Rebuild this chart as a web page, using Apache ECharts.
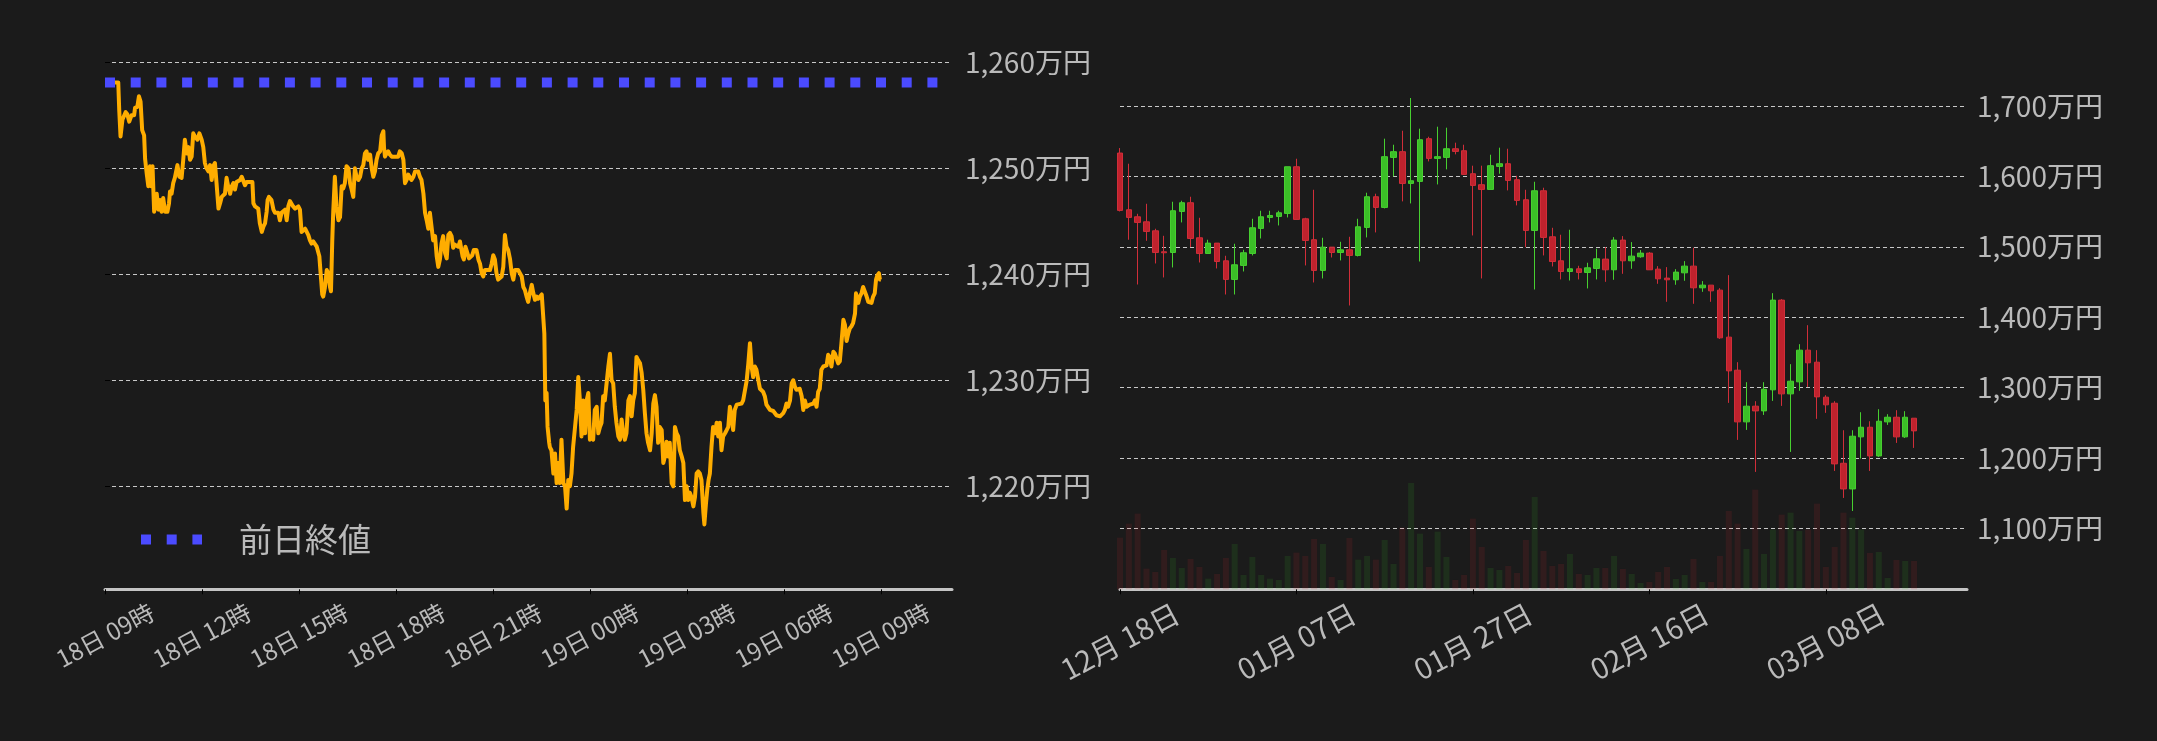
<!DOCTYPE html>
<html><head><meta charset="utf-8">
<script src="https://cdn.jsdelivr.net/npm/echarts@6/dist/echarts.min.js"></script>
<style>html,body{margin:0;padding:0;background:#1b1b1b;}#c{width:2157px;height:741px;}</style>
</head><body><div id="c"></div>
<script>
// ---- left chart: intraday price (hours since 18日 09:00, 万円) ----
const intraday = [
[0.31,1258.1],[0.41,1258.1],[0.44,1255.5],[0.48,1253.0],[0.54,1254.6],[0.57,1254.7],[0.64,1255.3],[0.69,1255.1],[0.75,1254.4],[0.82,1255.0],[0.90,1255.0],[0.93,1255.7],[1.00,1255.8],[1.05,1256.8],[1.10,1256.3],[1.15,1253.6],[1.21,1253.1],[1.24,1250.9],[1.29,1249.5],[1.34,1248.3],[1.39,1250.2],[1.44,1248.3],[1.47,1250.2],[1.52,1245.9],[1.60,1247.6],[1.65,1246.1],[1.70,1247.0],[1.75,1245.9],[1.80,1247.2],[1.86,1245.9],[1.93,1245.9],[1.98,1246.7],[2.01,1247.8],[2.06,1247.6],[2.11,1248.6],[2.16,1249.1],[2.24,1250.3],[2.30,1249.2],[2.37,1249.1],[2.42,1250.8],[2.47,1252.7],[2.53,1251.4],[2.58,1252.0],[2.63,1250.8],[2.68,1251.1],[2.73,1253.3],[2.78,1253.0],[2.86,1252.7],[2.92,1253.3],[2.99,1252.7],[3.04,1252.0],[3.09,1250.5],[3.14,1250.0],[3.20,1249.7],[3.25,1250.3],[3.30,1248.9],[3.35,1250.2],[3.40,1250.5],[3.45,1248.6],[3.51,1246.2],[3.56,1246.7],[3.61,1247.3],[3.66,1247.3],[3.71,1247.6],[3.76,1249.1],[3.81,1248.3],[3.87,1247.6],[3.92,1248.3],[3.97,1248.6],[4.02,1248.0],[4.07,1248.7],[4.12,1248.6],[4.18,1248.9],[4.23,1249.2],[4.28,1249.2],[4.33,1248.4],[4.38,1248.7],[4.48,1248.7],[4.56,1248.7],[4.59,1246.7],[4.64,1246.4],[4.74,1246.2],[4.79,1244.8],[4.85,1244.0],[4.90,1244.5],[4.95,1244.8],[5.00,1245.9],[5.03,1247.0],[5.07,1247.3],[5.15,1247.0],[5.21,1246.1],[5.26,1245.8],[5.36,1245.8],[5.41,1245.1],[5.46,1245.8],[5.52,1245.9],[5.57,1246.1],[5.62,1245.1],[5.67,1246.4],[5.72,1246.9],[5.77,1247.0],[5.82,1246.4],[5.88,1246.2],[5.93,1246.2],[5.98,1246.4],[6.03,1246.1],[6.08,1244.0],[6.13,1243.9],[6.19,1244.3],[6.24,1244.3],[6.29,1243.7],[6.34,1243.2],[6.39,1242.9],[6.44,1243.1],[6.49,1243.1],[6.55,1242.6],[6.60,1242.5],[6.63,1241.7],[6.67,1240.1],[6.72,1238.1],[6.75,1237.9],[6.80,1238.7],[6.86,1240.4],[6.91,1240.1],[6.96,1238.8],[6.99,1238.4],[7.03,1243.2],[7.06,1245.9],[7.11,1249.2],[7.16,1246.4],[7.22,1245.1],[7.27,1245.4],[7.32,1248.3],[7.37,1248.1],[7.42,1248.6],[7.47,1250.2],[7.53,1250.0],[7.58,1248.6],[7.63,1248.0],[7.68,1247.3],[7.73,1250.0],[7.78,1249.2],[7.84,1248.9],[7.89,1249.2],[7.94,1250.0],[7.99,1250.3],[8.04,1251.4],[8.09,1251.6],[8.14,1250.8],[8.20,1251.3],[8.25,1250.0],[8.30,1249.2],[8.35,1249.7],[8.40,1250.8],[8.45,1251.4],[8.51,1251.6],[8.56,1253.1],[8.61,1253.5],[8.63,1252.0],[8.66,1251.1],[8.71,1251.4],[8.76,1251.6],[8.81,1251.3],[8.87,1251.1],[8.97,1251.1],[9.07,1251.1],[9.12,1251.6],[9.18,1251.4],[9.23,1250.8],[9.28,1248.6],[9.33,1248.9],[9.38,1249.4],[9.48,1248.9],[9.54,1249.2],[9.59,1249.7],[9.64,1249.8],[9.69,1249.7],[9.74,1249.2],[9.79,1248.9],[9.85,1247.6],[9.90,1245.8],[9.95,1245.1],[10.00,1244.3],[10.05,1245.8],[10.10,1244.5],[10.15,1243.2],[10.21,1243.6],[10.26,1241.7],[10.31,1240.7],[10.36,1241.4],[10.41,1242.9],[10.46,1243.6],[10.52,1242.0],[10.57,1241.5],[10.62,1243.7],[10.67,1243.9],[10.72,1243.6],[10.77,1242.5],[10.82,1242.8],[10.88,1242.8],[10.93,1242.6],[10.98,1243.1],[11.03,1243.2],[11.06,1241.7],[11.10,1241.4],[11.15,1242.6],[11.21,1242.5],[11.26,1241.5],[11.31,1241.4],[11.36,1241.8],[11.41,1242.3],[11.49,1242.3],[11.55,1241.4],[11.60,1241.0],[11.65,1240.1],[11.70,1239.8],[11.75,1240.4],[11.80,1240.3],[11.91,1240.4],[11.96,1241.0],[12.01,1241.8],[12.06,1241.4],[12.11,1240.1],[12.16,1239.5],[12.22,1239.6],[12.27,1239.8],[12.32,1240.7],[12.37,1243.7],[12.42,1242.6],[12.47,1242.3],[12.53,1241.4],[12.58,1240.1],[12.63,1239.5],[12.68,1240.4],[12.78,1240.4],[12.84,1240.3],[12.89,1239.8],[12.94,1238.8],[12.99,1238.5],[13.04,1237.9],[13.09,1237.4],[13.14,1238.2],[13.20,1239.0],[13.25,1238.2],[13.30,1237.6],[13.35,1237.9],[13.40,1237.7],[13.45,1237.7],[13.51,1238.1],[13.56,1238.1],
[13.59,1234.4],[13.62,1228.1],[13.66,1228.8],[13.69,1225.6],[13.74,1224.1],
[13.76,1223.7],[13.81,1223.4],[13.87,1221.2],[13.92,1223.1],[13.97,1220.3],[14.02,1222.2],[14.07,1220.3],[14.12,1224.4],[14.18,1220.3],[14.23,1220.0],[14.28,1217.9],[14.33,1220.6],[14.38,1220.0],[14.43,1221.2],[14.48,1223.7],[14.54,1225.6],[14.59,1227.2],[14.64,1230.3],[14.69,1228.1],[14.74,1224.7],[14.79,1228.1],[14.85,1225.0],[14.90,1228.1],[14.95,1228.8],[15.00,1224.4],[15.05,1224.7],[15.10,1224.4],[15.15,1227.2],[15.21,1227.5],[15.26,1225.0],[15.31,1225.6],[15.36,1226.0],[15.41,1228.5],[15.46,1228.1],[15.52,1228.1],[15.57,1231.3],[15.62,1232.5],[15.67,1230.0],[15.72,1229.7],[15.77,1227.5],[15.82,1226.0],[15.88,1224.7],[15.93,1224.4],[15.98,1226.3],[16.03,1225.0],[16.08,1224.4],[16.13,1225.0],[16.19,1228.1],[16.24,1228.5],[16.29,1226.6],[16.34,1228.1],[16.39,1228.8],[16.44,1232.2],[16.49,1231.9],[16.55,1231.6],[16.60,1230.7],[16.65,1229.1],[16.70,1226.9],[16.75,1225.0],[16.80,1224.1],[16.86,1223.4],[16.91,1225.0],[16.96,1227.8],[17.01,1228.6],[17.06,1227.5],[17.11,1224.1],[17.16,1225.6],[17.22,1225.3],[17.27,1222.2],[17.32,1222.8],[17.37,1224.2],[17.42,1222.8],[17.47,1224.1],[17.53,1220.3],[17.58,1220.0],[17.63,1225.6],[17.68,1225.0],[17.73,1224.7],[17.78,1223.4],[17.84,1222.8],[17.89,1222.2],[17.94,1218.7],[17.99,1220.0],[18.04,1218.7],[18.09,1219.4],[18.14,1219.0],[18.20,1218.1],[18.25,1219.0],[18.30,1221.2],[18.35,1221.4],[18.40,1221.2],[18.45,1220.6],[18.51,1217.5],[18.54,1216.4],[18.59,1218.4],[18.63,1219.7],[18.67,1220.6],[18.71,1221.2],[18.76,1223.7],[18.81,1225.6],[18.87,1225.0],[18.92,1226.0],[18.97,1224.7],[19.02,1226.0],[19.07,1223.4],[19.12,1224.7],[19.18,1225.0],[19.23,1225.3],[19.28,1225.6],[19.33,1227.5],[19.38,1226.6],[19.43,1225.3],[19.48,1227.2],[19.54,1227.7],[19.59,1227.8],[19.69,1227.8],[19.74,1228.1],[19.79,1228.1],[19.85,1230.0],[19.90,1231.6],[19.95,1233.5],[20.00,1231.3],[20.05,1230.3],[20.10,1231.3],[20.15,1231.0],[20.21,1230.0],[20.26,1229.2],[20.31,1229.1],[20.36,1228.9],[20.41,1228.5],[20.46,1227.7],[20.57,1227.2],[20.67,1227.1],[20.77,1226.7],[20.88,1226.6],[20.98,1226.9],[21.03,1227.2],[21.08,1227.8],[21.13,1227.5],[21.19,1228.1],[21.24,1229.7],[21.29,1230.0],[21.34,1229.4],[21.39,1229.1],[21.49,1229.2],[21.55,1228.5],[21.60,1227.2],[21.65,1228.1],[21.70,1227.5],[21.80,1227.7],[21.91,1227.8],[21.96,1228.1],[22.01,1227.5],[22.06,1228.9],[22.11,1229.2],[22.16,1231.0],[22.22,1231.3],[22.27,1231.3],[22.32,1231.4],[22.37,1232.4],[22.42,1232.2],[22.47,1231.3],[22.53,1232.7],[22.58,1232.5],[22.63,1232.4],[22.68,1231.6],[22.73,1231.8],[22.78,1233.5],[22.84,1235.7],[22.89,1235.2],[22.94,1233.7],[22.99,1234.4],[23.04,1234.9],[23.09,1235.1],[23.14,1235.4],[23.20,1236.3],
[23.23,1238.2],[23.30,1237.3],[23.35,1237.9],[23.40,1238.2],[23.45,1238.8],[23.51,1238.7],[23.56,1237.9],[23.61,1237.4],[23.66,1237.3],[23.71,1237.3],[23.76,1237.9],[23.81,1238.2],[23.85,1239.5],[23.89,1239.9],[23.94,1240.1],[23.97,1239.5],[24.00,1239.5]
];
const prevClose = 1258.1;
const hoursMin = 0, hoursMax = 26.2;
const timeTickHours = [0, 3, 6, 9, 12, 15, 18, 21, 24];
const timeTickLabels = ['18日 09時','18日 12時','18日 15時','18日 18時','18日 21時','19日 00時','19日 03時','19日 06時','19日 09時'];
const leftPriceTicks = [1220, 1230, 1240, 1250, 1260];

// ---- right chart: daily candles ----
const dates = ['12/18','12/19','12/20','12/21','12/22','12/23','12/24','12/25','12/26','12/27','12/28','12/29','12/30','12/31',
'01/01','01/02','01/03','01/04','01/05','01/06','01/07','01/08','01/09','01/10','01/11','01/12','01/13','01/14','01/15','01/16','01/17','01/18','01/19','01/20','01/21','01/22','01/23','01/24','01/25','01/26','01/27','01/28','01/29','01/30','01/31',
'02/01','02/02','02/03','02/04','02/05','02/06','02/07','02/08','02/09','02/10','02/11','02/12','02/13','02/14','02/15','02/16','02/17','02/18','02/19','02/20','02/21','02/22','02/23','02/24','02/25','02/26','02/27','02/28',
'03/01','03/02','03/03','03/04','03/05','03/06','03/07','03/08','03/09','03/10','03/11','03/12','03/13','03/14','03/15','03/16','03/17','03/18'];
const padDates = ['','','','','',''];
// [open, close, low, high]
const ohlc = [
[1633.2,1551.7,1550.2,1640.3],[1552.6,1541.7,1510.0,1618.0],[1542.6,1534.6,1446.4,1546.9],[1535.5,1521.8,1508.5,1561.1],[1522.7,1491.9,1476.3,1525.6],
[1492.9,1491.5,1456.4,1515.6],[1491.9,1551.2,1470.6,1564.0],[1550.2,1562.6,1534.6,1565.4],[1562.6,1511.8,1499.5,1571.1],[1512.8,1490.5,1477.7,1541.2],
[1490.5,1505.2,1490.5,1510.0],[1505.2,1479.1,1469.2,1505.2],[1480.1,1453.6,1432.2,1487.2],[1453.6,1474.4,1432.2,1504.3],[1473.5,1491.5,1464.9,1495.7],
[1490.5,1527.0,1487.7,1539.8],[1526.1,1542.6,1511.8,1551.2],[1541.7,1544.5,1534.6,1551.2],[1543.1,1548.3,1530.3,1551.2],[1547.4,1613.7,1541.7,1613.7],
[1613.7,1538.9,1538.9,1625.1],[1539.8,1509.0,1473.5,1541.2],[1510.0,1466.4,1449.3,1581.0],[1466.4,1499.5,1455.0,1512.8],[1499.5,1491.9,1484.8,1499.5],
[1491.9,1495.7,1480.6,1507.1],[1495.7,1487.7,1416.6,1514.2],[1487.7,1528.4,1486.3,1539.8],[1527.5,1571.1,1513.3,1576.8],[1571.1,1555.9,1520.4,1575.4],
[1555.9,1628.0,1554.5,1653.6],[1627.0,1635.1,1600.0,1645.0],[1635.1,1590.0,1564.5,1664.9],[1590.0,1593.8,1561.6,1711.4],[1592.9,1652.1,1479.1,1667.8],
[1653.6,1625.6,1621.3,1656.4],[1625.6,1628.0,1588.6,1670.6],[1627.0,1639.3,1610.0,1669.2],[1639.3,1635.5,1631.3,1647.9],[1636.5,1602.8,1602.8,1645.0],
[1603.8,1587.2,1516.1,1615.2],[1588.2,1581.5,1455.0,1615.2],[1581.5,1615.2,1581.5,1630.8],[1614.2,1618.0,1603.8,1640.8],[1618.0,1594.3,1580.1,1639.3],
[1595.3,1565.9,1558.8,1600.9],[1566.8,1523.2,1499.5,1581.0],[1523.2,1579.6,1439.3,1592.4],[1579.6,1513.3,1487.7,1583.9],[1514.2,1479.1,1472.0,1527.0],
[1480.1,1464.9,1453.6,1517.1],[1464.9,1468.7,1452.1,1524.2],[1468.7,1463.5,1453.6,1473.0],[1463.5,1470.1,1440.8,1477.3],[1469.2,1482.9,1453.6,1497.2],
[1482.5,1467.3,1450.2,1499.5],[1467.3,1509.5,1453.1,1513.7],[1509.5,1480.1,1461.6,1515.2],[1480.1,1486.7,1468.7,1506.6],[1485.8,1491.0,1484.4,1495.3],
[1491.0,1467.3,1467.3,1492.4],[1468.2,1454.5,1447.4,1472.5],[1455.5,1453.1,1421.8,1471.1],[1453.1,1464.0,1446.0,1468.2],[1463.0,1472.5,1451.7,1479.6],
[1472.5,1441.7,1419.0,1498.6],[1441.7,1445.5,1436.0,1451.2],[1445.5,1437.4,1421.8,1445.5],[1438.4,1370.6,1369.2,1441.2],[1371.6,1323.7,1278.2,1459.7],
[1324.6,1251.2,1225.6,1336.0],[1251.2,1273.5,1239.8,1307.6],[1273.5,1266.8,1180.1,1280.6],[1266.8,1297.6,1261.1,1307.6],[1296.7,1424.2,1281.0,1434.1],
[1424.2,1291.0,1273.9,1425.6],[1291.0,1309.0,1208.5,1333.2],[1308.1,1353.1,1295.3,1361.6],[1353.1,1335.1,1300.9,1388.6],[1336.0,1286.7,1255.5,1353.1],
[1286.3,1275.4,1264.0,1289.1],[1277.7,1191.5,1181.5,1280.6],[1192.4,1155.9,1143.1,1239.3],[1155.9,1230.8,1124.6,1239.3],[1229.9,1243.6,1199.0,1264.9],
[1243.6,1202.8,1181.5,1252.1],[1202.8,1252.1,1201.4,1269.2],[1251.2,1257.8,1246.9,1262.1],[1257.8,1229.9,1221.3,1267.8],[1229.9,1257.8,1228.4,1266.4],
[1256.4,1238.4,1214.2,1256.4]
];
// relative traded volume (arbitrary units)
const volume = [155,197,227,62,52,118,94,64,91,67,32,46,94,136,43,97,43,32,28,100,
110,100,151,136,37,28,154,89,100,89,148,76,185,319,167,67,173,97,28,43,
212,127,64,58,70,49,148,277,115,70,76,106,46,43,64,64,100,61,46,19,
22,52,67,31,43,91,22,22,100,235,197,121,299,106,179,224,230,175,179,257,
67,127,230,215,179,109,112,34,88,85,85];
const rightPriceTicks = [1100, 1200, 1300, 1400, 1500, 1600, 1700];

const BG = '#1b1b1b', LABEL = '#bababa', GRIDLINE = '#c8c8c8', AXIS = '#c4c4c4';
const FONT = '"Noto Sans CJK JP", "Noto Sans", sans-serif';
const UP = '#3bbf27', UP_B = '#47cf30', DOWN = '#c0222d', DOWN_B = '#d02e39';

const yen = v => Math.round(v).toLocaleString('en-US') + '万円';

const chart = echarts.init(document.getElementById('c'), null, {renderer: 'canvas'});
chart.setOption({
  backgroundColor: BG,
  animation: false,
  grid: [
    {left: 105, right: 1205, top: 62.3, bottom: 151.7},
    {left: 1120, right: 190, top: 98, bottom: 151.7}
  ],
  legend: {
    data: ['前日終値'], left: 136, top: 523, padding: 0,
    itemWidth: 61, itemHeight: 34, selectedMode: false,
    lineStyle: {width: 10},
    itemStyle: {opacity: 0, borderWidth: 0},
    textStyle: {color: LABEL, fontSize: 33, fontFamily: FONT, padding: [0, 0, 0, 32]}
  },
  xAxis: [
    {
      type: 'value', gridIndex: 0, min: hoursMin, max: hoursMax,
      axisLine: {show: true, lineStyle: {color: AXIS, width: 3}},
      axisTick: {show: true, length: 5, lineStyle: {color: '#000'}, customValues: timeTickHours},
      axisLabel: {
        customValues: timeTickHours, rotate: 28, align: 'center', verticalAlign: 'middle', margin: 46,
        color: LABEL, fontSize: 24, fontFamily: FONT,
        formatter: v => timeTickLabels[timeTickHours.indexOf(Math.round(v))] || ''
      },
      splitLine: {show: false}
    },
    {
      type: 'category', gridIndex: 1, data: dates.concat(padDates), boundaryGap: false,
      axisLine: {show: true, lineStyle: {color: AXIS, width: 3}},
      axisTick: {show: true, length: 5, interval: 19, lineStyle: {color: '#000'}},
      axisLabel: {
        interval: 19, rotate: 28, align: 'center', verticalAlign: 'middle', margin: 52,
        color: LABEL, fontSize: 29, fontFamily: FONT,
        formatter: v => v ? v.split('/')[0] + '月 ' + v.split('/')[1] + '日' : ''
      },
      splitLine: {show: false}
    }
  ],
  yAxis: [
    {
      type: 'value', gridIndex: 0, position: 'right', min: 1210.28, max: 1260,
      axisLine: {show: false},
      axisTick: {show: true, length: 5, lineStyle: {color: '#000'}, customValues: leftPriceTicks},
      axisLabel: {customValues: leftPriceTicks, margin: 13, color: LABEL, fontSize: 28, fontFamily: FONT, formatter: yen},
      splitLine: {show: true, lineStyle: {color: GRIDLINE, width: 1, type: [4, 3]}}
    },
    {
      type: 'value', gridIndex: 1, position: 'right', min: 1013.3, max: 1711.4,
      axisLine: {show: false},
      axisTick: {show: false, customValues: rightPriceTicks},
      axisLabel: {customValues: rightPriceTicks, margin: 10, color: LABEL, fontSize: 28, fontFamily: FONT, formatter: yen},
      splitLine: {show: true, lineStyle: {color: GRIDLINE, width: 1, type: [4, 3]}}
    },
    {
      type: 'value', gridIndex: 1, min: 0, max: 1474, show: false,
      splitLine: {show: false}
    }
  ],
  series: [
    {
      name: '前日終値', type: 'line', xAxisIndex: 0, yAxisIndex: 0, z: 2,
      data: [[hoursMin, prevClose], [hoursMax, prevClose]],
      symbol: 'none', silent: true,
      lineStyle: {color: '#4b4bff', width: 10, type: [10, 15.7], cap: 'butt'},
      itemStyle: {color: '#4b4bff'}
    },
    {
      name: 'price', type: 'line', xAxisIndex: 0, yAxisIndex: 0, z: 3,
      data: intraday, symbol: 'none', showSymbol: false,
      lineStyle: {color: '#ffad00', width: 4, join: 'round'}
    },
    {
      name: 'volume', type: 'bar', xAxisIndex: 1, yAxisIndex: 2, z: 1, barWidth: 6,
      data: volume.map((v, i) => ({
        value: v,
        itemStyle: {color: ohlc[i][1] >= ohlc[i][0] ? 'rgba(60,200,40,0.12)' : 'rgba(200,40,50,0.13)'}
      }))
    },
    {
      name: 'candle', type: 'candlestick', xAxisIndex: 1, yAxisIndex: 1, z: 3, barWidth: 6,
      data: ohlc,
      itemStyle: {color: UP, color0: DOWN, borderColor: UP_B, borderColor0: DOWN_B, borderWidth: 1}
    }
  ]
});
</script>
</body></html>
